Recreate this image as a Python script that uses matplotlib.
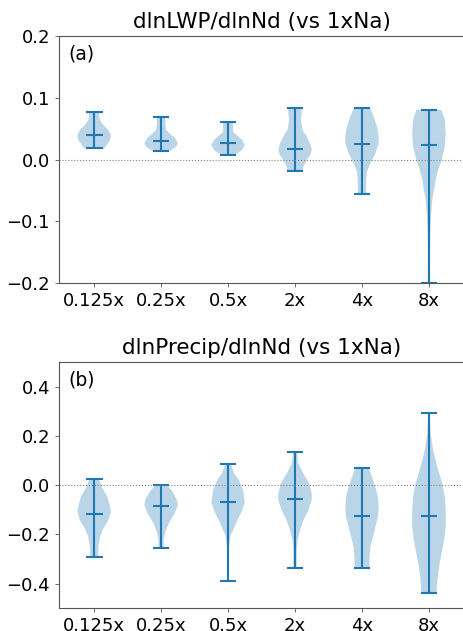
import numpy as np
import matplotlib
matplotlib.use('Agg')
import matplotlib.pyplot as plt

# categories (aerosol scaling vs 1xNa)
labels = ['0.125x', '0.25x', '0.5x', '2x', '4x', '8x']

# ---- panel (a) dlnLWP/dlnNd : min, median, max and violin outline
lwp_min = [0.0181, 0.0143, 0.0068, -0.0186, -0.0559, -0.200]
lwp_med = [0.0392, 0.0300, 0.0262, 0.0175, 0.0256, 0.0240]
lwp_max = [0.0774, 0.0693, 0.0612, 0.0829, 0.0829, 0.0802]
lwp_y = [
    [0.0181, 0.0235, 0.0316, 0.0397, 0.0478, 0.0559, 0.0640, 0.0693, 0.0774],
    [0.0143, 0.0208, 0.0262, 0.0343, 0.0424, 0.0478, 0.0586, 0.0693],
    [0.0068, 0.0100, 0.0154, 0.0235, 0.0316, 0.0397, 0.0450, 0.0612],
    [-0.0186, -0.0116, -0.0008, 0.0073, 0.0154, 0.0262, 0.0370, 0.0478, 0.0640, 0.0748, 0.0829],
    [-0.0559, -0.0332, -0.0197, -0.0062, 0.0100, 0.0262, 0.0370, 0.0532, 0.0693, 0.0829],
    [-0.200, -0.1736, -0.1196, -0.0926, -0.0656, -0.0494, -0.0332, -0.0170, -0.0008, 0.0208, 0.0424, 0.0640, 0.0802],
]
lwp_w = [
    [0.60, 0.75, 0.95, 1.00, 0.85, 0.55, 0.35, 0.30, 0.30],
    [0.55, 0.90, 1.00, 0.85, 0.50, 0.30, 0.25, 0.25],
    [0.40, 0.55, 0.85, 1.00, 0.85, 0.50, 0.30, 0.30],
    [0.45, 0.50, 0.70, 0.90, 1.00, 0.90, 0.70, 0.45, 0.35, 0.40, 0.40],
    [0.25, 0.25, 0.30, 0.50, 0.80, 1.00, 1.00, 0.90, 0.70, 0.50],
    [0.06, 0.06, 0.08, 0.12, 0.20, 0.30, 0.40, 0.55, 0.75, 0.95, 1.00, 0.95, 0.75],
]

# ---- panel (b) dlnPrecip/dlnNd
pr_min = [-0.2916, -0.2550, -0.3890, -0.3350, -0.3350, -0.4380]
pr_med = [-0.1153, -0.0854, -0.0690, -0.0556, -0.1234, -0.1248]
pr_max = [0.0244, 0.0000, 0.0882, 0.1356, 0.0720, 0.2943]
pr_y = [
    [-0.2916, -0.2509, -0.2102, -0.1763, -0.1424, -0.1085, -0.0882, -0.0475, -0.0068, 0.0244],
    [-0.2550, -0.2238, -0.1900, -0.1559, -0.1153, -0.0814, -0.0610, -0.0271, 0.0000],
    [-0.3890, -0.2500, -0.2030, -0.1830, -0.1424, -0.1017, -0.0680, -0.0203, 0.0200, 0.0500, 0.0882],
    [-0.3350, -0.2644, -0.2238, -0.1830, -0.1424, -0.1017, -0.0610, -0.0339, 0.0068, 0.0475, 0.0882, 0.1356],
    [-0.3350, -0.2916, -0.2509, -0.2102, -0.1696, -0.1290, -0.0882, -0.0475, -0.0068, 0.0339, 0.0720],
    [-0.4380, -0.3865, -0.3323, -0.2780, -0.2238, -0.1696, -0.1017, -0.0475, 0.0068, 0.0745, 0.1424, 0.2103, 0.2943],
]
pr_w = [
    [0.25, 0.25, 0.35, 0.55, 0.85, 1.00, 0.95, 0.80, 0.45, 0.30],
    [0.15, 0.15, 0.25, 0.45, 0.80, 1.00, 0.95, 0.70, 0.35],
    [0.05, 0.06, 0.15, 0.30, 0.55, 0.85, 1.00, 0.90, 0.65, 0.35, 0.15],
    [0.10, 0.10, 0.15, 0.30, 0.50, 0.80, 1.00, 1.00, 0.85, 0.50, 0.20, 0.10],
    [0.45, 0.45, 0.50, 0.65, 0.80, 0.95, 1.00, 0.95, 0.80, 0.60, 0.40],
    [0.45, 0.50, 0.60, 0.75, 0.90, 1.00, 1.00, 0.95, 0.80, 0.50, 0.25, 0.10, 0.05],
]


def make_stats(ys, ws, mins, meds, maxs):
    # build the per-violin stats dicts that Axes.violin wants
    out = []
    for y, w, lo, md, hi in zip(ys, ws, mins, meds, maxs):
        out.append({'coords': np.array(y), 'vals': np.array(w),
                    'mean': md, 'median': md, 'min': lo, 'max': hi})
    return out


fig = plt.figure(figsize=(4.63, 6.31), dpi=100)
ax1 = fig.add_axes([0.1274, 0.5515, 0.875, 0.3914])
ax2 = fig.add_axes([0.1274, 0.036, 0.875, 0.390])

pos = np.arange(1, len(labels) + 1)

panels = [
    (ax1, make_stats(lwp_y, lwp_w, lwp_min, lwp_med, lwp_max), 'dlnLWP/dlnNd (vs 1xNa)', '(a)', (-0.2, 0.2), [-0.2, -0.1, 0.0, 0.1, 0.2]),
    (ax2, make_stats(pr_y, pr_w, pr_min, pr_med, pr_max), 'dlnPrecip/dlnNd (vs 1xNa)', '(b)', (-0.5, 0.5), [-0.4, -0.2, 0.0, 0.2, 0.4]),
]

for ax, stats, title, tag, ylim, yt in panels:
    ax.violin(stats, positions=pos, widths=0.5, showmedians=True, showextrema=True)
    ax.axhline(0, color='gray', linestyle=':', linewidth=0.8)
    ax.set_xticks(pos)
    ax.set_xticklabels(labels)
    ax.set_xlim(0.475, 6.525)
    ax.set_ylim(ylim)
    ax.set_yticks(yt)
    ax.tick_params(labelsize=13, length=3, width=0.6, color='#555555')
    ax.set_title(title, fontsize=15.5)
    ax.text(0.022, 0.965, tag, transform=ax.transAxes, fontsize=13.5, va='top')
    # right spine falls just outside the picture in the original
    ax.spines['right'].set_visible(False)
    for s in ['left', 'top', 'bottom']:
        ax.spines[s].set_color('#555555')

fig.savefig('out.png', dpi=100)
